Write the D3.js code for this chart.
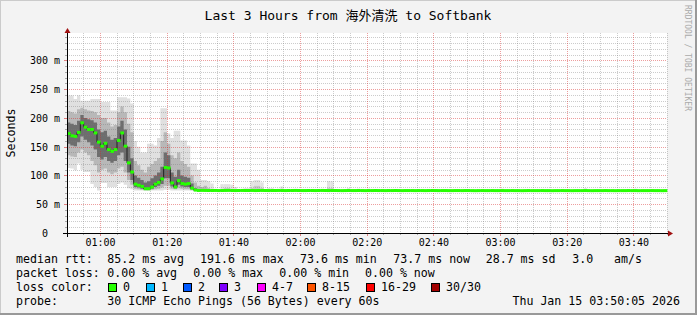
<!DOCTYPE html>
<html><head><meta charset="utf-8">
<script src="https://cdn.jsdelivr.net/npm/d3@7"></script>
<style>body{margin:0;background:#f3f3f3}svg{display:block}</style>
</head><body><svg id="c" width="697" height="315"></svg>
<script>
// ---- DATA ----
// median RTT (ms), one value per 60 s step, 180 steps
const medianRtt = [
173,169,168,175,191.6,184,180,180,174,158,
151,156,145,142,145,161,174,151,122,106,
85,83,81,77,77,80,85,88,94,114,
113,87,80,91,86,85,86,78,74.6,
74.0,74.1,74.0,73.9,
73.9,74.0,73.8,73.9,74.0,74.1,73.9,73.8,73.9,74.0,
73.9,73.9,74.0,73.8,73.9,74.0,73.9,73.8,73.9,73.9,
74.0,73.9,73.8,73.9,73.9,74.0,73.9,73.8,73.8,73.9,
73.9,73.8,73.9,74.0,73.9,73.8,73.9,73.9,73.8,73.7,
73.8,73.9,73.8,73.8,73.9,73.8,73.7,73.8,73.8,73.9,
73.8,73.8,73.7,73.8,73.8,73.9,73.8,73.7,73.8,73.8,
73.8,73.7,73.8,73.8,73.7,73.8,73.9,73.8,73.7,73.8,
73.8,73.7,73.7,73.8,73.8,73.7,73.8,73.8,73.7,73.6,
73.7,73.8,73.7,73.7,73.8,73.7,73.7,73.8,73.7,73.7,
73.8,73.7,73.7,73.6,73.7,73.8,73.7,73.7,73.7,73.8,
73.7,73.7,73.6,73.7,73.7,73.8,73.7,73.7,73.6,73.7,
73.7,73.7,73.8,73.7,73.6,73.7,73.7,73.7,73.8,73.7,
73.7,73.6,73.7,73.7,73.7,73.8,73.7,73.7,73.6,73.7,
73.7,73.7,73.8,73.7,73.7,73.6,73.7
];
// smoke (ping distribution) for the busy period, steps 0..42
const pingMin = [113,112,109,121,110,106,106,85,80,74, 87,87,80,80,80,85,88,84,78,76, 74,74,73.8,73.7,73.7,74,74,74,74,75, 75,74,74,74,74,74,74,73.7,73.6,73.6, 73.6,73.6,73.6];
const pingP10 = [135,133,132,140,145,140,135,125,118,105, 110,112,105,102,105,112,115,105,92,84, 77,76,75,74.5,74.5,75,76,77,79,82, 82,77,76,78,77,76,76,74.5,74,73.8, 73.8,73.8,73.8];
const pingP25 = [155,152,151,158,168,162,158,152,145,132, 128,132,125,122,125,135,140,125,105,92, 80,79,77,76,76,77,80,82,85,95, 95,81,78,84,81,80,80,76,74.3,74, 74,74,74];
const pingP75 = [192,190,188,195,205,200,198,196,192,180, 175,178,168,162,165,185,195,180,150,130, 100,96,92,88,90,95,100,105,115,140, 135,105,98,110,100,98,96,86,78,76, 75,75,75];
const pingP90 = [212,210,208,215,218,215,213,212,210,205, 200,200,192,185,188,210,220,210,190,175, 125,118,110,105,115,120,125,130,160,175, 155,135,130,140,125,120,115,100,88,82, 80,82,78];
const pingMax = [239,239,233,239,230,230,230,233,233,233, 228,228,228,213,213,236,236,236,234,225, 160,150,140,140,155,155,152,165,217,217, 173,165,178,178,161,161,152,121,121,110, 92,92,90];
// faint smoke puffs in the quiet period
const puffStep = [43,46,47,48,49,50,53,54,55,56,57,58,60,61,64,78,79,84,87,90,130,155,170];
const puffP90  = [76,76,78,78,76,75,75,75,78,82,82,78,75,75,75,78,78,75,75,75,75,75,75];
const puffMax  = [86,85,85,85,84,80,78,78,90,92,92,88,78,78,81,90,90,78,77,77,77,78,77];

const yTicks = [0,50,100,150,200,250,300];
const yTickLabels = ["0","50 m","100 m","150 m","200 m","250 m","300 m"];
const lossLabels = ["0","1","2","3","4-7","8-15","16-29","30/30"];
const lossColors = ["#26ff00","#00b8ff","#0059ff","#7e00ff","#ff00ff","#ff5500","#ff0000","#a10000"];
const lossBoxX = [108,146,183,219,257,307,366,431];
const statLine1 = ["median rtt:","85.2 ms avg","191.6 ms max","73.6 ms min","73.7 ms now","28.7 ms sd","3.0","am/s"];
const statLine1X = [16,107.3,200,300,393.3,485.7,572.3,614];
const statLine2 = ["packet loss:","0.00 % avg","0.00 % max","0.00 % min","0.00 % now"];
const statLine2X = [16,107.3,193.3,279.3,365];
const titleText = "Last 3 Hours from 海外清洗 to Softbank";
const probeText = "30 ICMP Echo Pings (56 Bytes) every 60s";
const dateText = "Thu Jan 15 03:50:05 2026";

// ---- DRAW ----
const svg = d3.select("#c");
const W = 697, H = 315, X0 = 67, X1 = 667, Y0 = 233, Y1 = 33;
const t0 = Date.UTC(2026,0,15,0,50,5);
const t1 = t0 + medianRtt.length*60000;
const x = d3.scaleUtc().domain([new Date(t0), new Date(t1)]).range([X0, X1]);
const y = d3.scaleLinear().domain([0, 347.8]).range([Y0, Y1]);
const st = k => new Date(t0 + k*60000);
const mono = "'DejaVu Sans Mono','Noto Sans CJK SC',monospace";

svg.append("rect").attr("width",W).attr("height",H).attr("fill","#f3f3f3");
svg.append("line").attr("x1",0).attr("y1",0.5).attr("x2",W).attr("y2",0.5).attr("stroke","#cbcbcb");
svg.append("line").attr("x1",0.5).attr("y1",0).attr("x2",0.5).attr("y2",H).attr("stroke","#cbcbcb");
svg.append("line").attr("x1",0).attr("y1",H-1).attr("x2",W).attr("y2",H-1).attr("stroke","#999").attr("stroke-width",2);
svg.append("line").attr("x1",W-1).attr("y1",0).attr("x2",W-1).attr("y2",H).attr("stroke","#999").attr("stroke-width",2);

svg.append("rect").attr("x",X0).attr("y",Y1).attr("width",X1-X0).attr("height",Y0-Y1).attr("fill","#fff");

// smoke
const idx = d3.range(pingMin.length + 1);
const cl = i => Math.min(i, pingMin.length-1);
function band(lo, hi, col){
  svg.append("path").datum(idx)
    .attr("d", d3.area().curve(d3.curveStepAfter)
      .x(i => x(st(i))).y0(i => y(lo[cl(i)])).y1(i => y(hi[cl(i)]))(idx))
    .attr("fill", col);
}
band(pingMin, pingMax, "#e0e0e0");
band(pingP10, pingP90, "#b8b8b8");
band(pingP25, pingP75, "#6e6e6e");
const puffs = puffStep.map((s,i)=>({s, p90:puffP90[i], mx:puffMax[i]}));
svg.append("g").selectAll("rect").data(puffs).join("rect")
  .attr("x", d=>x(st(d.s))).attr("width", d=>x(st(d.s+1))-x(st(d.s)))
  .attr("y", d=>y(d.mx)).attr("height", d=>y(73.5)-y(d.mx)).attr("fill","#e2e2e2");
svg.append("g").selectAll("rect").data(puffs).join("rect")
  .attr("x", d=>x(st(d.s))).attr("width", d=>x(st(d.s+1))-x(st(d.s)))
  .attr("y", d=>y(d.p90)).attr("height", d=>y(73.5)-y(d.p90)).attr("fill","#c8c8c8");

// grid
const g = svg.append("g");
const minorC = "rgba(120,120,120,0.38)", majorC = "rgba(215,40,40,0.45)";
const tMinor = d3.utcMinute.every(5).range(new Date(t0), new Date(t1)).filter(d=>d.getUTCMinutes()%20!==0);
const tMajor = d3.utcMinute.every(20).range(new Date(t0), new Date(t1));
const vMinor = d3.range(10, 347, 10).filter(v=>v%50!==0);
const vMajor = yTicks.filter(v=>v>0);
const rx = d => Math.round(x(d))+0.5, ry = v => Math.round(y(v))+0.5;
g.selectAll(".vm").data(tMinor).join("line").attr("x1",rx).attr("x2",rx).attr("y1",Y1).attr("y2",Y0)
  .attr("stroke",minorC).attr("stroke-dasharray","1,1");
g.selectAll(".hm").data(vMinor).join("line").attr("y1",ry).attr("y2",ry).attr("x1",X0).attr("x2",X1)
  .attr("stroke",minorC).attr("stroke-dasharray","1,1");
g.selectAll(".vM").data(tMajor).join("line").attr("x1",rx).attr("x2",rx).attr("y1",Y1).attr("y2",Y0)
  .attr("stroke",majorC).attr("stroke-dasharray","1,1");
g.selectAll(".hM").data(vMajor).join("line").attr("y1",ry).attr("y2",ry).attr("x1",X0).attr("x2",X1)
  .attr("stroke",majorC).attr("stroke-dasharray","1,1");
// ticks outside
g.selectAll(".tm").data(tMinor).join("line").attr("x1",rx).attr("x2",rx).attr("y1",Y0).attr("y2",Y0+2).attr("stroke","#aaa");
g.selectAll(".tM").data(tMajor).join("line").attr("x1",rx).attr("x2",rx).attr("y1",Y0).attr("y2",Y0+3).attr("stroke","#e08080");
g.selectAll(".ym").data(vMinor).join("line").attr("y1",ry).attr("y2",ry).attr("x1",X0-2).attr("x2",X0).attr("stroke","#aaa");
g.selectAll(".yM").data(vMajor).join("line").attr("y1",ry).attr("y2",ry).attr("x1",X0-3).attr("x2",X0).attr("stroke","#e08080");

// median line + loss colour
const mIdx = d3.range(medianRtt.length + 1);
const cm = i => medianRtt[Math.min(i, medianRtt.length-1)];
svg.append("path").attr("d", d3.line().curve(d3.curveStepAfter).x(i=>x(st(i))).y(i=>y(cm(i)))(mIdx))
  .attr("fill","none").attr("stroke","#202020").attr("stroke-width",1);
svg.append("g").selectAll("rect").data(medianRtt).join("rect")
  .attr("x",(d,i)=>x(st(i))).attr("width",(d,i)=>x(st(i+1))-x(st(i))+0.3)
  .attr("y",d=>y(d)-1.5).attr("height",3).attr("fill",lossColors[0]);

// axes
svg.append("line").attr("x1",63).attr("x2",669).attr("y1",Y0+0.5).attr("y2",Y0+0.5).attr("stroke","#000");
svg.append("path").attr("d",`M668,${Y0-2.5}L673,${Y0+0.5}L668,${Y0+3.5}Z`).attr("fill","#a01010");
svg.append("line").attr("x1",X0+0.5).attr("x2",X0+0.5).attr("y1",Y0+4).attr("y2",29).attr("stroke","#000");
svg.append("path").attr("d",`M${X0-2.5},33L${X0+0.5},28L${X0+3.5},33Z`).attr("fill","#a01010");

const xAxis = d3.axisBottom(x).tickValues(tMajor).tickFormat(d3.utcFormat("%H:%M")).tickSize(0).tickPadding(0);
const xa = svg.append("g").attr("transform",`translate(0,${Y0})`).call(xAxis);
xa.select(".domain").remove();
xa.selectAll("text").attr("dy",null).attr("y",13).attr("font-family",mono).attr("font-size","10px").attr("fill","#000");

const yAxis = d3.axisLeft(y).tickValues(yTicks).tickFormat((d,i)=>yTickLabels[i]).tickSize(0).tickPadding(0);
const ya = svg.append("g").attr("transform",`translate(60,0)`).call(yAxis);
ya.select(".domain").remove();
ya.selectAll("text").attr("x",d=>d===0?-12:0).attr("dy","0.35em").attr("font-family",mono).attr("font-size","10px").attr("fill","#000");

// titles
svg.append("text").attr("x",348).attr("y",20).attr("text-anchor","middle")
  .attr("font-family",mono).attr("font-size","13px").attr("fill","#000").text(titleText);
svg.append("text").attr("transform","translate(14.5,133) rotate(-90)").attr("text-anchor","middle")
  .attr("font-family",mono).attr("font-size","11.6px").attr("fill","#000").text("Seconds");
svg.append("text").attr("transform","translate(684.5,5) rotate(90)").attr("text-anchor","start")
  .attr("font-family",mono).attr("font-size","8px").attr("fill","#aaa").text("RRDTOOL / TOBI OETIKER");

// legend
const lg = svg.append("g").attr("font-family",mono).attr("font-size","11.6px").attr("fill","#000");
lg.selectAll(".l1").data(statLine1).join("text").attr("x",(d,i)=>statLine1X[i]).attr("y",262.5).text(d=>d);
lg.selectAll(".l2").data(statLine2).join("text").attr("x",(d,i)=>statLine2X[i]).attr("y",276.5).text(d=>d);
lg.append("text").attr("x",16).attr("y",290.5).text("loss color:");
lg.selectAll(".lb").data(lossColors).join("rect").attr("x",(d,i)=>lossBoxX[i]+0.5).attr("y",283.5)
  .attr("width",8).attr("height",8).attr("fill",d=>d).attr("stroke","#000");
lg.selectAll(".lt").data(lossLabels).join("text").attr("x",(d,i)=>lossBoxX[i]+15).attr("y",290.5).text(d=>d);
lg.append("text").attr("x",16).attr("y",304.5).text("probe:");
lg.append("text").attr("x",107.3).attr("y",304.5).text(probeText);
lg.append("text").attr("x",680).attr("y",304.5).attr("text-anchor","end").text(dateText);
</script></body></html>
